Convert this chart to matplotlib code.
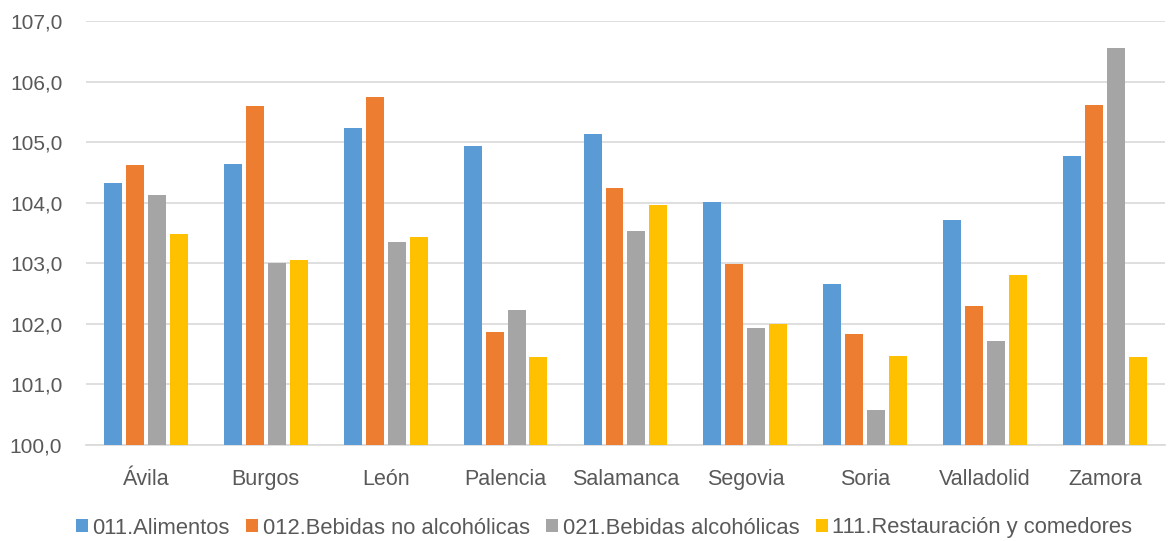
import numpy as np
import matplotlib.pyplot as plt
from matplotlib.ticker import FuncFormatter

provincias = ['Ávila', 'Burgos', 'León', 'Palencia', 'Salamanca',
              'Segovia', 'Soria', 'Valladolid', 'Zamora']
series = ['011.Alimentos', '012.Bebidas no alcohólicas',
          '021.Bebidas alcohólicas', '111.Restauración y comedores']
alimentos = [104.32, 104.64, 105.24, 104.94, 105.13, 104.01, 102.65, 103.71, 104.77]
bebidas_no_alc = [104.62, 105.59, 105.74, 101.87, 104.24, 102.99, 101.83, 102.29, 105.62]
bebidas_alc = [104.13, 103.00, 103.35, 102.23, 103.54, 101.93, 100.58, 101.72, 106.56]
restauracion = [103.48, 103.05, 103.43, 101.45, 103.97, 102.00, 101.47, 102.80, 101.45]
valores = [alimentos, bebidas_no_alc, bebidas_alc, restauracion]
colores = ['#5B9BD5', '#ED7D31', '#A5A5A5', '#FFC000']

plt.rcParams['font.family'] = ['Liberation Sans', 'DejaVu Sans']

fig = plt.figure(figsize=(11.68, 5.41), dpi=100)
ax = fig.add_axes([0.0736, 0.1774, 0.9238, 0.7838])

x = np.arange(len(provincias))
paso = 0.183
ancho = 0.15
for i, (vals, col, nom) in enumerate(zip(valores, colores, series)):
    ax.bar(x + (i - 1.5) * paso, np.array(vals) - 100, bottom=100,
           width=ancho, color=col, label=nom, zorder=3)

ax.set_ylim(100, 107)
ax.set_xlim(-0.5, len(provincias) - 0.5)
ax.set_yticks(np.arange(100, 108, 1))
ax.yaxis.set_major_formatter(FuncFormatter(lambda v, p: f'{v:.1f}'.replace('.', ',')))
ax.set_xticks(x)
ax.set_xticklabels(provincias)

ax.grid(axis='y', color='#D9D9D9', linewidth=1.2, zorder=0)
for s in ['top', 'right', 'left']:
    ax.spines[s].set_visible(False)
ax.spines['bottom'].set_color('#D9D9D9')
ax.spines['bottom'].set_linewidth(1.2)
ax.tick_params(axis='y', length=0, pad=17, labelsize=15, labelcolor='#595959')
ax.tick_params(axis='x', length=0, pad=17, labelsize=15.5, labelcolor='#595959')

fig.legend(loc='center', bbox_to_anchor=(604 / 1168, 1 - 528 / 541), ncol=4,
           frameon=False, fontsize=15.8, labelcolor='#595959',
           handlelength=0.55, handleheight=0.55, handletextpad=0.2,
           columnspacing=0.75)

fig.savefig('out.png', dpi=100)
